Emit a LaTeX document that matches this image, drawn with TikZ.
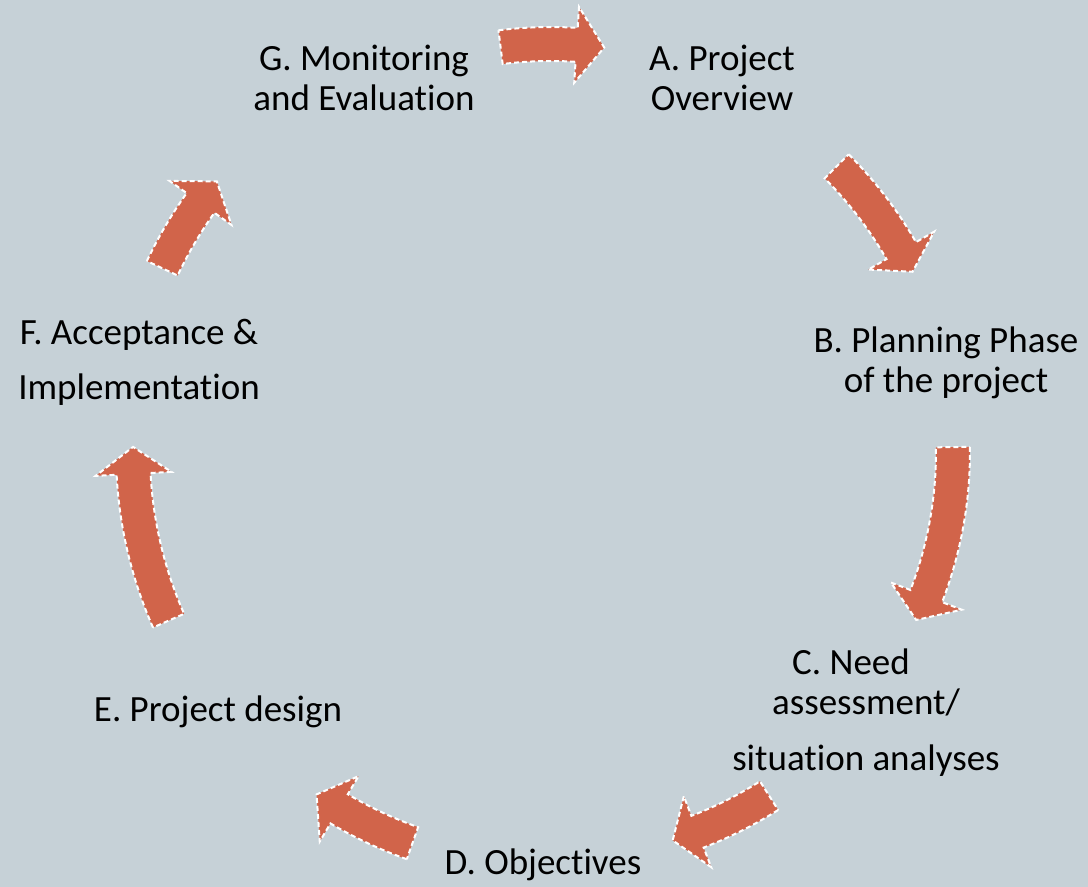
\documentclass[tikz,border=0pt]{standalone}
\usepackage{fontspec}
\setmainfont{Carlito}[Ligatures=NoCommon]
\definecolor{bgcol}{RGB}{198,209,215}
\definecolor{arrowfill}{RGB}{209,100,74}

% curved block arrow around the current origin:
% #1 radius, #2 tail angle, #3 head base angle, #4 tip angle
\newcommand\cyclearrowpath[4]{%
  \pgfmathsetmacro\arrOut{#1+17}%
  \pgfmathsetmacro\arrIn{#1-17}%
  \pgfmathsetmacro\arrHeadOut{#1+38}%
  \pgfmathsetmacro\arrHeadIn{#1-38}%
  \draw[cyclearrow] (#2:\arrOut) arc[start angle=#2, end angle=#3, radius=\arrOut]
    -- (#3:\arrHeadOut) -- (#4:#1) -- (#3:\arrHeadIn) -- (#3:\arrIn)
    arc[start angle=#3, end angle=#2, radius=\arrIn] -- cycle;
}

\begin{document}
\begin{tikzpicture}[x=1pt,y=-1pt,
  steplabel/.style={font=\fontsize{37}{40}\selectfont, align=center,
    text=black, inner sep=0pt, anchor=base},
  cyclearrow/.style={fill=arrowfill, draw=white, line width=2pt,
    dash pattern=on 5pt off 3pt, line join=miter}]
\fill[bgcol] (0,0) rectangle (1088,887);
\useasboundingbox (0,0) rectangle (1088,887);

% cycle arrows
\begin{scope}[shift={(551,452)}]
  \cyclearrowpath{408}{-97.1}{-86.4}{-82.5}
  \cyclearrowpath{404}{-45}{-29.9}{-26.5}
  \cyclearrowpath{402}{-0.7}{21}{24.7}
  \cyclearrowpath{407}{57.6}{68.9}{72.6}
  \cyclearrowpath{415}{109.5}{120.7}{124.4}
  \cyclearrowpath{418}{156.2}{177}{180.7}
  \cyclearrowpath{430}{205.3}{215.4}{219}
\end{scope}

% step labels (multi-line nodes sit on the baseline of their last line)
\node[steplabel] (g) at (364,110) {G. Monitoring\\and Evaluation};
\node[steplabel] (a) at (722,110) {A. Project\\Overview};
\node[steplabel] (b) at (946,392) {B. Planning Phase\\of the project};
\node[steplabel] (c) at (866,770) {C. Need\hspace*{30pt}\\assessment/\\[16pt]situation analyses};
\node[steplabel] (d) at (543,874) {D. Objectives};
\node[steplabel] (e) at (218,721) {E. Project design};
\node[steplabel] (f) at (139,399) {F. Acceptance \&\\[15pt]Implementation};
\end{tikzpicture}
\end{document}
